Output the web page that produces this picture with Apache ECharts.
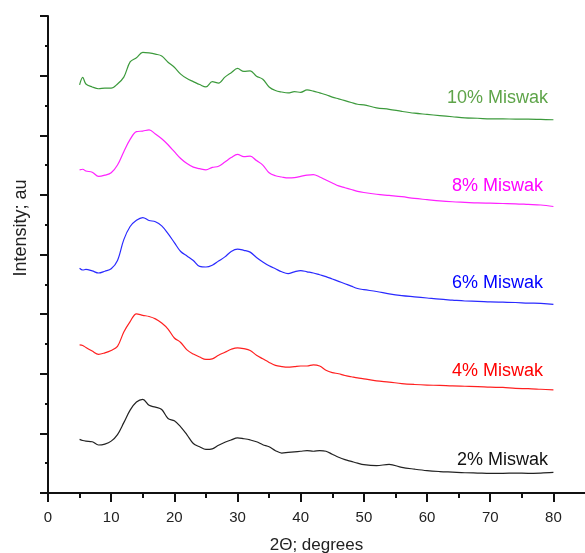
<!DOCTYPE html>
<html>
<head>
<meta charset="utf-8">
<title>XRD Miswak</title>
<script src="https://cdn.jsdelivr.net/npm/echarts@6/dist/echarts.min.js"></script>
<style>
  html, body { margin: 0; padding: 0; background: #fff; }
  #chart { width: 585px; height: 553px; }
</style>
</head>
<body>
<div id="chart"></div>
<script>
// 2θ 取样点
const theta = [5, 5.5, 6, 7, 8, 9, 10, 11, 12, 13, 14, 15, 16, 17, 18, 19, 20, 21, 22, 23, 24, 25,
  26, 27, 28, 29, 30, 31, 32, 33, 34, 35, 36, 37, 38, 39, 40, 41, 42, 43, 44, 45, 46, 47, 48, 49, 50,
  52, 54, 56, 58, 60, 62, 64, 66, 68, 70, 72, 74, 76, 78, 80]

// 各曲线强度（已叠加偏移，单位同 y 轴）
const miswak10 = [13.69, 13.94, 13.72, 13.62, 13.56, 13.58, 13.58, 13.72, 13.95, 14.46, 14.60, 14.78,
  14.76, 14.72, 14.66, 14.45, 14.28, 14.05, 13.90, 13.80, 13.70, 13.62, 13.80, 13.75, 13.95, 14.10,
  14.24, 14.14, 14.16, 13.98, 13.88, 13.62, 13.50, 13.45, 13.42, 13.46, 13.44, 13.52, 13.48, 13.42,
  13.36, 13.28, 13.22, 13.16, 13.10, 13.04, 13.02, 12.92, 12.87, 12.80, 12.74, 12.70, 12.66, 12.62,
  12.58, 12.57, 12.55, 12.55, 12.54, 12.54, 12.53, 12.52]
const miswak8 = [10.84, 10.86, 10.80, 10.76, 10.62, 10.66, 10.74, 11.00, 11.45, 11.86, 12.12, 12.14,
  12.18, 12.04, 11.88, 11.68, 11.45, 11.22, 11.05, 10.93, 10.88, 10.84, 10.92, 10.96, 11.10, 11.25,
  11.36, 11.28, 11.30, 11.15, 11.00, 10.74, 10.64, 10.60, 10.57, 10.58, 10.62, 10.66, 10.68, 10.60,
  10.50, 10.40, 10.30, 10.24, 10.18, 10.12, 10.08, 10.02, 9.98, 9.94, 9.88, 9.84, 9.80, 9.77,
  9.75, 9.73, 9.72, 9.71, 9.70, 9.68, 9.66, 9.61]
const miswak6 = [7.54, 7.48, 7.50, 7.45, 7.38, 7.44, 7.52, 7.80, 8.50, 8.94, 9.15, 9.24,
  9.14, 9.10, 8.96, 8.70, 8.40, 8.10, 7.95, 7.80, 7.60, 7.58, 7.64, 7.78, 7.92, 8.10,
  8.18, 8.14, 8.08, 7.90, 7.75, 7.62, 7.52, 7.42, 7.36, 7.42, 7.46, 7.42, 7.38, 7.32,
  7.26, 7.18, 7.10, 7.02, 6.94, 6.86, 6.82, 6.76, 6.68, 6.62, 6.58, 6.54, 6.50, 6.47,
  6.44, 6.43, 6.41, 6.40, 6.39, 6.37, 6.36, 6.33]
const miswak4 = [4.97, 4.95, 4.88, 4.76, 4.65, 4.70, 4.78, 4.92, 5.40, 5.75, 6.01, 5.96,
  5.92, 5.84, 5.70, 5.50, 5.20, 5.05, 4.80, 4.66, 4.56, 4.48, 4.50, 4.62, 4.72, 4.82,
  4.87, 4.84, 4.78, 4.62, 4.50, 4.38, 4.28, 4.24, 4.22, 4.24, 4.26, 4.26, 4.30, 4.26,
  4.12, 4.04, 4.00, 3.94, 3.90, 3.86, 3.83, 3.76, 3.72, 3.67, 3.64, 3.62, 3.61, 3.59,
  3.58, 3.57, 3.55, 3.54, 3.51, 3.50, 3.48, 3.46]
const miswak2 = [1.80, 1.76, 1.74, 1.72, 1.61, 1.64, 1.74, 1.96, 2.36, 2.78, 3.05, 3.14,
  2.94, 2.88, 2.80, 2.50, 2.42, 2.22, 1.95, 1.66, 1.55, 1.46, 1.48, 1.60, 1.70, 1.78,
  1.85, 1.82, 1.78, 1.72, 1.62, 1.55, 1.42, 1.34, 1.36, 1.38, 1.40, 1.42, 1.40, 1.42,
  1.40, 1.30, 1.20, 1.12, 1.06, 1.00, 0.95, 0.92, 0.96, 0.86, 0.80, 0.75, 0.72, 0.70,
  0.68, 0.67, 0.66, 0.66, 0.67, 0.66, 0.67, 0.69]

// x 轴刻度
const majorTicks = [0, 10, 20, 30, 40, 50, 60, 70, 80]
const minorTicks = [5, 15, 25, 35, 45, 55, 65, 75]

const seriesNames = ['10% Miswak', '8% Miswak', '6% Miswak', '4% Miswak', '2% Miswak']
const seriesData = [miswak10, miswak8, miswak6, miswak4, miswak2]
const lineColors = ['#3c9a3c', '#ff22ff', '#2a2aff', '#ff2020', '#222222']
const labelColors = ['#5ea449', '#ff00ff', '#0000ff', '#ff0000', '#111111']

const chart = echarts.init(document.getElementById('chart'), null, { renderer: 'canvas' })

const axisLine = { lineStyle: { color: '#111', width: 2 } }

// 曲线右侧的文字标注
const labelPos = [
  { x: 548, y: 98 },
  { x: 543, y: 186 },
  { x: 543, y: 283 },
  { x: 543, y: 371 },
  { x: 548, y: 460 }
]

const option = {
  animation: false,
  backgroundColor: '#fff',
  grid: { left: 48, top: 16, width: 537, bottom: 60, outerBoundsMode: 'none' },
  xAxis: [
    {
      type: 'value',
      min: 0,
      max: 85,
      interval: 10,
      axisLine: axisLine,
      splitLine: { show: false },
      axisTick: { length: 9, lineStyle: { color: '#111', width: 2 }, customValues: majorTicks },
      axisLabel: {
        customValues: majorTicks,
        margin: 17,
        fontSize: 15,
        fontFamily: 'Liberation Sans, Arial',
        color: '#222'
      },
      name: '2Θ; degrees',
      nameLocation: 'middle',
      nameGap: 44,
      nameTextStyle: { fontSize: 17, fontFamily: 'Liberation Sans, Arial', color: '#222' }
    },
    {
      type: 'value',
      position: 'bottom',
      min: 0,
      max: 85,
      axisLine: { show: false },
      splitLine: { show: false },
      axisTick: { length: 5, lineStyle: { color: '#111', width: 2 }, customValues: minorTicks },
      axisLabel: { show: false }
    }
  ],
  yAxis: {
    type: 'value',
    min: 0,
    max: 16,
    interval: 2,
    axisLine: axisLine,
    splitLine: { show: false },
    axisLabel: { show: false },
    axisTick: { show: true, length: 8, lineStyle: { color: '#111', width: 2 } },
    minorTick: { show: true, splitNumber: 2, length: 3, lineStyle: { color: '#111', width: 2 } }
  },
  graphic: [
    {
      type: 'text',
      x: 21,
      y: 228,
      rotation: Math.PI / 2,
      style: {
        text: 'Intensity; au',
        fontSize: 18,
        fontFamily: 'Liberation Sans, Arial',
        fill: '#222',
        align: 'center',
        verticalAlign: 'middle'
      }
    }
  ].concat(seriesNames.map((name, i) => ({
    type: 'text',
    x: labelPos[i].x,
    y: labelPos[i].y,
    style: {
      text: name,
      fontSize: 18,
      fontFamily: 'Liberation Sans, Arial',
      fill: labelColors[i],
      align: 'right',
      verticalAlign: 'middle'
    }
  }))),
  series: seriesNames.map((name, i) => ({
    name: name,
    type: 'line',
    showSymbol: false,
    smooth: 0.35,
    lineStyle: { color: lineColors[i], width: 1.2 },
    data: theta.map((t, k) => [t, seriesData[i][k]])
  }))
}

chart.setOption(option)
</script>
</body>
</html>
